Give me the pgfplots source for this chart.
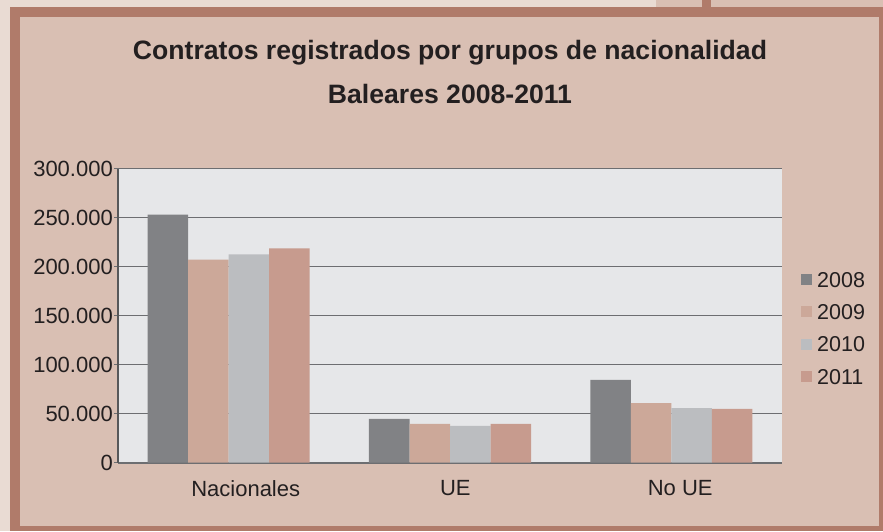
\documentclass[border=0pt]{standalone}
\usepackage{pgfplots}
\pgfplotsset{compat=1.18}
\usepackage{fontspec}
\setmainfont{Liberation Sans}
\definecolor{outerbg}{HTML}{E9DBD3}
\definecolor{panel}{HTML}{D9BFB3}
\definecolor{frame}{HTML}{B07B6A}
\definecolor{plotbg}{HTML}{E6E7E9}
\definecolor{gridc}{HTML}{6D6E71}
\definecolor{txt}{HTML}{231F20}
\definecolor{cA}{HTML}{818285}
\definecolor{cB}{HTML}{CCA899}
\definecolor{cC}{HTML}{BBBDC0}
\definecolor{cD}{HTML}{C79B8E}
\begin{document}
\begin{tikzpicture}[x=1pt,y=1pt]
\fill[outerbg] (0,0) rectangle (883,531);
\fill[panel] (656,524) rectangle (883,531);
\fill[frame] (702,524) rectangle (711,531);
\fill[frame] (10,0) rectangle (883,524);
\fill[panel] (20,5) rectangle (879,514);
\node[anchor=base,font=\fontsize{26.6}{31}\selectfont\bfseries,text=txt,inner sep=0pt] at (450,471) {Contratos registrados por grupos de nacionalidad};
\node[anchor=base,font=\fontsize{26.6}{31}\selectfont\bfseries,text=txt,inner sep=0pt] at (450,427) {Baleares 2008-2011};
\begin{axis}[
  at={(118pt,68.5pt)}, anchor=south west,
  scale only axis, width=664pt, height=294pt,
  xmin=-0.5, xmax=2.5, ymin=0, ymax=300000,
  scaled y ticks=false,
  axis background/.style={fill=plotbg},
  axis x line*=bottom, axis y line*=left,
  x axis line style={draw=gridc, line width=2pt},
  y axis line style={draw=gridc!80!black, line width=1.2pt},
  ybar=0pt, bar width=0.183,
  xtick={0.077,1.024,2.04},
  xticklabels={Nacionales,UE,No UE},
  xtick style={draw=none},
  ytick={0,50000,100000,150000,200000,250000,300000},
  yticklabels={0,50.000,100.000,150.000,200.000,250.000,300.000},
  ytick style={draw=gridc, line width=1.2pt},
  tick align=outside, major tick length=4pt,
  ymajorgrids, grid style={draw=gridc, line width=1.4pt},
  tick label style={font=\fontsize{22}{26}\selectfont, text=txt},
  yticklabel style={inner sep=0pt, xshift=-1pt},
  xticklabel style={inner sep=0pt, yshift=-14pt},
  legend image code/.code={\fill[#1] (0pt,-5.5pt) rectangle (11pt,5.5pt);},
  legend style={draw=none, fill=none, at={(1,0.4575)}, anchor=west, xshift=19pt,
    font=\fontsize{21.5}{25}\selectfont, text=txt, inner sep=0pt, row sep=16.8pt,
    nodes={inner ysep=0pt, inner xsep=5pt, text height=15.5pt, text depth=0pt}},
  legend cell align=left,
]
\addplot[fill=cA, draw=none] coordinates {(0,253000) (1,44500) (2,84200)};
\addplot[fill=cB, draw=none] coordinates {(0,207000) (1,39300) (2,60700)};
\addplot[fill=cC, draw=none] coordinates {(0,212300) (1,37300) (2,55600)};
\addplot[fill=cD, draw=none] coordinates {(0,218400) (1,39300) (2,54600)};
\legend{2008,2009,2010,2011}
\end{axis}
\end{tikzpicture}
\end{document}
